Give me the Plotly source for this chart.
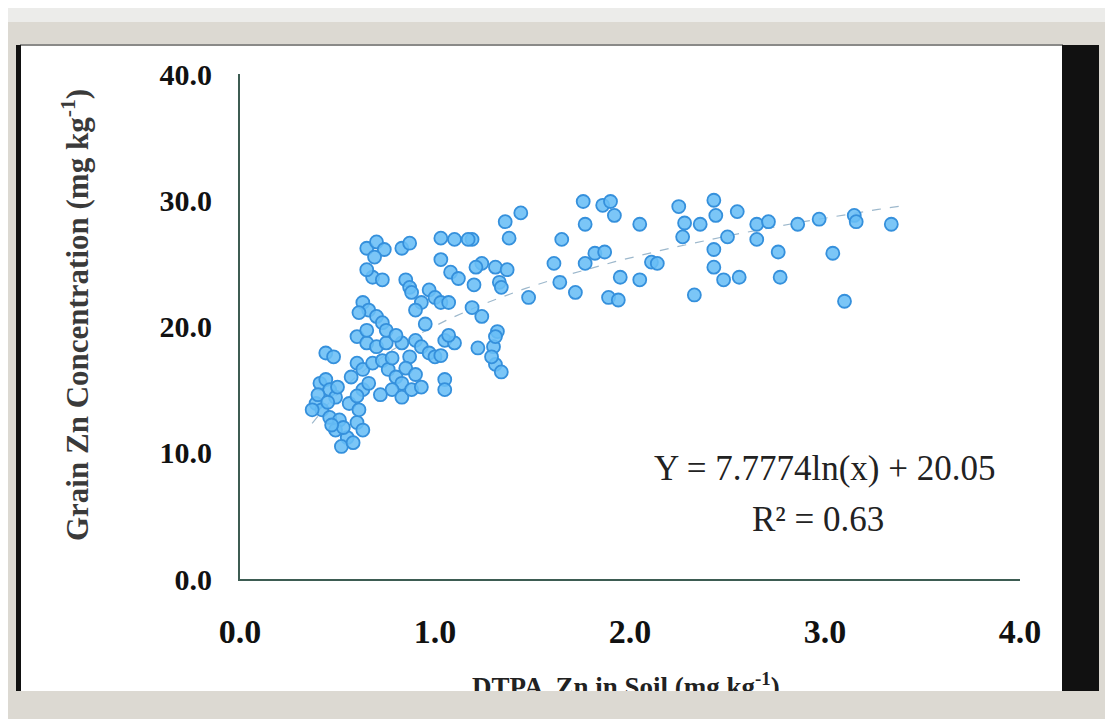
import math
import plotly.graph_objects as go

# ---------------- data ----------------
dtpa_zn_soil = [
    1.76, 1.86, 1.90, 1.92, 1.77, 2.05, 1.65, 1.44, 1.36, 1.38,
    1.19, 1.24, 1.31, 1.37, 1.20, 1.33, 1.34, 1.48, 1.61, 1.64,
    1.72, 1.77, 1.82, 1.87, 1.95, 2.05, 2.11, 1.89, 1.94, 1.19,
    1.24, 1.32, 1.22, 1.30, 1.31, 1.34, 2.25, 2.28, 2.27, 2.36,
    2.43, 2.44, 2.55, 2.50, 2.65, 2.71, 2.65, 2.86, 2.97, 3.15,
    3.16, 3.34, 2.43, 2.43, 2.48, 2.56, 2.76, 2.77, 3.04, 2.33,
    3.10, 2.14,
    0.65, 0.70, 0.74, 0.69, 0.68, 0.73, 0.65, 0.83, 0.87, 1.03,
    1.10, 1.17, 1.03, 1.21, 0.85, 0.87, 0.88, 0.97, 1.00, 0.93,
    0.90, 1.03, 1.07, 0.63, 0.66, 0.70, 0.73, 0.61, 0.60, 0.65,
    0.70, 0.75, 0.44, 0.48, 0.60, 0.63, 0.68, 0.73, 0.83, 0.90,
    0.93, 0.87, 0.97, 1.00, 1.05, 1.10, 0.76, 0.80, 0.83, 0.78,
    0.83, 0.88, 0.93, 1.05, 1.05, 1.31, 1.29, 0.41, 0.44, 0.46,
    0.39, 0.42, 0.49, 0.46, 0.51, 0.49, 0.55, 0.52, 0.58, 0.60,
    0.63, 0.56, 0.61, 0.37, 0.63, 0.66, 0.65, 0.75, 0.80, 1.07,
    1.03, 0.85, 1.08, 1.12, 0.50, 0.53, 0.47, 0.60, 0.72, 0.78,
    0.90, 0.57, 0.95, 0.40, 0.45,
]
grain_zn = [
    29.9, 29.6, 29.9, 28.8, 28.1, 28.1, 26.9, 29.0, 28.3, 27.0,
    26.9, 25.0, 24.7, 24.5, 23.3, 23.5, 23.1, 22.3, 25.0, 23.5,
    22.7, 25.0, 25.8, 25.9, 23.9, 23.7, 25.1, 22.3, 22.1, 21.5,
    20.8, 19.6, 18.3, 18.4, 17.0, 16.4, 29.5, 28.2, 27.1, 28.1,
    30.0, 28.8, 29.1, 27.1, 28.1, 28.3, 26.9, 28.1, 28.5, 28.8,
    28.3, 28.1, 26.1, 24.7, 23.7, 23.9, 25.9, 23.9, 25.8, 22.5,
    22.0, 25.0,
    26.2, 26.7, 26.1, 25.5, 23.9, 23.7, 24.5, 26.2, 26.6, 27.0,
    26.9, 26.9, 25.3, 24.7, 23.7, 23.1, 22.7, 22.9, 22.3, 21.9,
    21.3, 21.9, 21.9, 21.9, 21.3, 20.8, 20.3, 21.1, 19.2, 18.7,
    18.4, 18.7, 17.9, 17.6, 17.1, 16.6, 17.1, 17.3, 18.7, 18.9,
    18.4, 17.6, 17.9, 17.6, 18.9, 18.7, 16.6, 16.0, 15.5, 15.0,
    14.4, 15.0, 15.2, 15.8, 15.0, 19.2, 17.6, 15.5, 15.8, 15.0,
    13.9, 13.4, 14.4, 12.8, 12.6, 11.8, 11.2, 10.5, 10.8, 12.4,
    11.8, 13.9, 13.4, 13.4, 15.0, 15.5, 19.7, 19.7, 19.3, 19.3,
    17.7, 16.7, 24.3, 23.8, 15.2, 12.0, 12.2, 14.5, 14.6, 17.5,
    16.2, 16.0, 20.2, 14.6, 14.0,
]

# logarithmic trendline shown on the chart: Y = a ln(x) + b
trend_a = 7.7774
trend_b = 20.05
trend_x_range = [0.37, 3.40]

x_ticks = [0, 1, 2, 3, 4]
x_tick_labels = ["0.0", "1.0", "2.0", "3.0", "4.0"]
y_ticks = [0, 10, 20, 30, 40]
y_tick_labels = ["0.0", "10.0", "20.0", "30.0", "40.0"]

equation_text = "Y = 7.7774ln(x) + 20.05"
r2_text = "R² = 0.63"
x_title = "DTPA  Zn in Soil (mg kg<sup>-1</sup>)"
y_title = "Grain Zn Concentration (mg kg<sup>-1</sup>)"

# ---------------- layout helpers ----------------
# the page body has an 8px margin, so the figure is drawn 8px smaller and
# every target-window pixel position is shifted by that offset
OFF = 8
W, H = 1113 - OFF, 719 - OFF
PLOT_X0, PLOT_X1, PLOT_Y0, PLOT_Y1 = 240, 1020, 74, 579   # window pixels
ML = PLOT_X0 - OFF
MT = PLOT_Y0 - OFF
PW = PLOT_X1 - PLOT_X0
PH = PLOT_Y1 - PLOT_Y0
MR = W - ML - PW
MB = H - MT - PH


def px(xwin):
    return (xwin - OFF - ML) / PW


def py(ywin):
    return (MT + PH - (ywin - OFF)) / PH


n_trend = 120
tx = [trend_x_range[0] + (trend_x_range[1] - trend_x_range[0]) * i / (n_trend - 1)
      for i in range(n_trend)]
ty = [trend_a * math.log(v) + trend_b for v in tx]

fig = go.Figure()
fig.add_trace(go.Scatter(
    x=tx, y=ty, mode="lines",
    line=dict(color="#9db8cc", width=1.2, dash="dash"),
    showlegend=False, hoverinfo="skip",
))
fig.add_trace(go.Scatter(
    x=dtpa_zn_soil, y=grain_zn, mode="markers",
    marker=dict(size=13, color="rgba(105,190,246,0.88)",
                line=dict(color="#3590dc", width=1.8)),
    showlegend=False, hoverinfo="x+y",
))

serif = "Liberation Serif"
beige = "#dcd9d2"

shapes = [
    dict(type="rect", xref="paper", yref="paper", x0=px(0), x1=px(1113), y0=py(OFF), y1=py(22),
         fillcolor="#ececea", line=dict(width=0), layer="below"),
    dict(type="rect", xref="paper", yref="paper", x0=px(20), x1=px(1063), y0=py(45), y1=py(691),
         fillcolor="white", line=dict(width=0), layer="below"),
    dict(type="line", xref="paper", yref="paper", x0=px(20), x1=px(1063), y0=py(45), y1=py(45),
         line=dict(color="#8a8a88", width=2), layer="below"),
    dict(type="rect", xref="paper", yref="paper", x0=px(16), x1=px(21), y0=py(45), y1=py(691),
         fillcolor="#111111", line=dict(width=0), layer="below"),
    dict(type="rect", xref="paper", yref="paper", x0=px(1062), x1=px(1099), y0=py(45), y1=py(691),
         fillcolor="#111111", line=dict(width=0), layer="below"),
]

annotations = [
    dict(text=equation_text, xref="paper", yref="paper", x=px(825), y=py(468),
         xanchor="center", yanchor="middle", showarrow=False,
         font=dict(family=serif, size=35, color="#222222")),
    dict(text=r2_text, xref="paper", yref="paper", x=px(818), y=py(519),
         xanchor="center", yanchor="middle", showarrow=False,
         font=dict(family=serif, size=35, color="#222222")),
    dict(text=y_title, xref="paper", yref="paper", x=px(75), y=py(315),
         xanchor="center", yanchor="middle", showarrow=False, textangle=-90,
         font=dict(family=serif, size=31, color="#3a3a3a", weight="bold")),
    dict(text=x_title, xref="paper", yref="paper", x=px(626), y=py(666),
         xanchor="center", yanchor="top", showarrow=False,
         font=dict(family=serif, size=27, color="#222222", weight="bold")),
    # bottom frame band drawn over the cut-off axis title
    dict(text=" ", xref="paper", yref="paper", x=px(0), y=py(691),
         xanchor="left", yanchor="top", showarrow=False,
         width=1113, height=40, bgcolor=beige, borderpad=0, borderwidth=0,
         font=dict(size=10)),
]

fig.update_layout(
    width=W, height=H,
    margin=dict(l=ML, r=MR, t=MT, b=MB, pad=0),
    paper_bgcolor=beige,
    plot_bgcolor="rgba(0,0,0,0)",
    shapes=shapes,
    annotations=annotations,
    showlegend=False,
    xaxis=dict(range=[0, 4], tickvals=x_ticks, ticktext=x_tick_labels,
               showgrid=False, zeroline=False, showline=True,
               linecolor="#3d5c52", linewidth=2,
               ticks="outside", ticklen=21, tickcolor="rgba(0,0,0,0)",
               tickfont=dict(family=serif, size=34, color="#111111", weight="bold")),
    yaxis=dict(range=[0, 40], tickvals=y_ticks, ticktext=y_tick_labels,
               showgrid=False, zeroline=False, showline=True,
               linecolor="#3d5c52", linewidth=2,
               ticks="outside", ticklen=20, tickcolor="rgba(0,0,0,0)",
               tickfont=dict(family=serif, size=30, color="#111111", weight="bold")),
)

fig.write_html("out.html")
